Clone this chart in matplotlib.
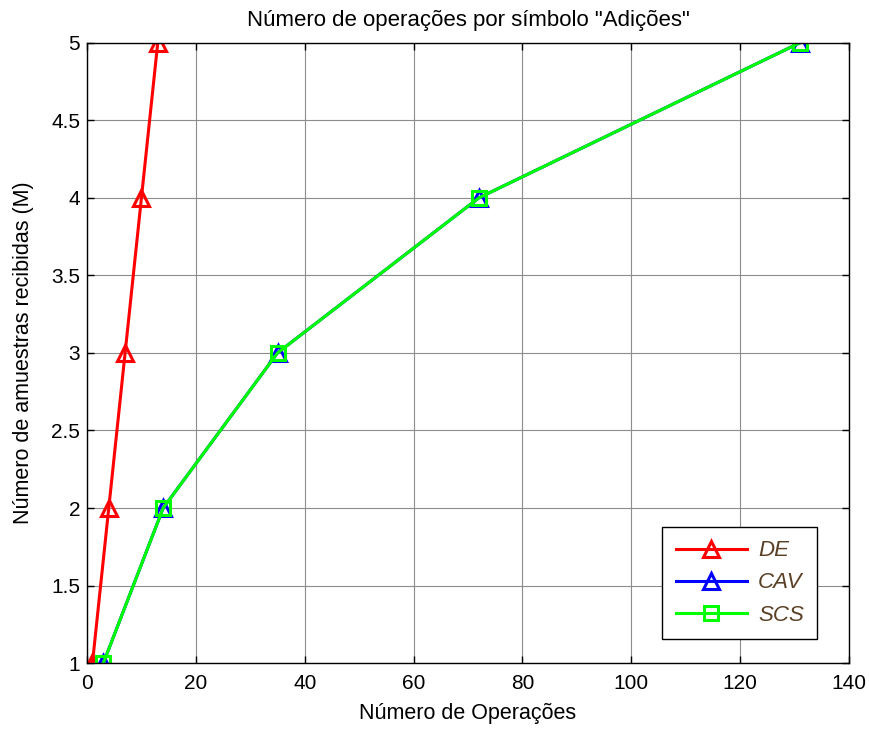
import numpy as np
import matplotlib.pyplot as plt

plt.rcParams['font.family'] = ['Liberation Sans', 'DejaVu Sans']

muestras = np.array([1, 2, 3, 4, 5])
ops_de = np.array([1, 4, 7, 10, 13])
ops_cav = np.array([3, 14, 35, 72, 131])
ops_scs = np.array([3, 14, 35, 72, 131])

fig = plt.figure(figsize=(8.7, 7.36), dpi=100)
ax = fig.add_axes([0.1, 0.099, 0.876, 0.843])

ax.plot(ops_de, muestras, '-^', color='#ff0000', lw=2.2, ms=12,
        mfc='none', mew=2.2, label='DE')
ax.plot(ops_cav, muestras, '-^', color='#0000ff', lw=2.2, ms=12,
        mfc='none', mew=2.2, label='CAV')
ax.plot(ops_scs, muestras, '-s', color='#00ff00', lw=2.2, ms=10,
        mfc='none', mew=2.2, label='SCS')

ax.set_xlim(0, 140)
ax.set_ylim(1, 5)
ax.set_xticks(np.arange(0, 141, 20))
ax.set_yticks(np.arange(1, 5.01, 0.5))
ax.set_yticklabels(['1', '1.5', '2', '2.5', '3', '3.5', '4', '4.5', '5'])
ax.grid(True, color='#8c8c8c', lw=0.8)
ax.set_axisbelow(True)
ax.tick_params(direction='in', top=True, right=True, labelsize=15,
               length=5, width=1)
ax.tick_params(axis='x', pad=8)
ax.tick_params(axis='y', pad=5)
for s in ax.spines.values():
    s.set_linewidth(1)

ax.set_xlabel('Número de Operações', fontsize=15.5, labelpad=7)
ax.set_ylabel('Número de amuestras recibidas (M)', fontsize=15.5,
              labelpad=12)
ax.set_title('Número de operações por símbolo "Adições"', fontsize=16,
             pad=12)

leg = ax.legend(loc='lower right', bbox_to_anchor=(0.958, 0.039),
                borderaxespad=0, fancybox=False, edgecolor='black',
                framealpha=1, handlelength=3.2, handletextpad=0.5,
                borderpad=0.6, labelspacing=0.5,
                prop={'style': 'italic', 'size': 16})
leg.get_frame().set_linewidth(1)
for t in leg.get_texts():
    t.set_color('#5a4025')

fig.savefig('out.png', dpi=100)
